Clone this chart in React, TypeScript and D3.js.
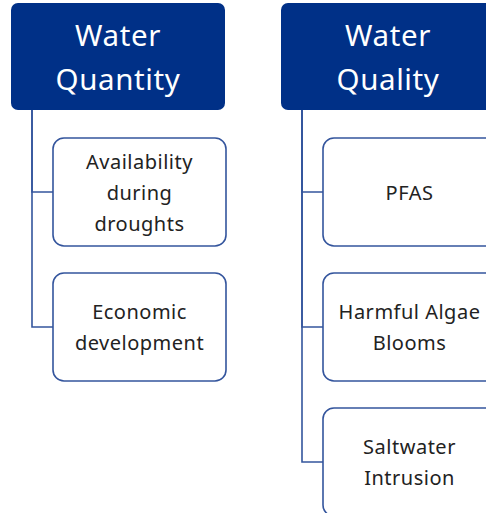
import React from 'react';
import * as d3 from 'd3';

// 两个大类（标题按行拆开）
const groupTitles: string[][] = [['Water', 'Quantity'], ['Water', 'Quality']];
// 每个大类下的子项
const quantityItems: string[][] = [['Availability', 'during', 'droughts'], ['Economic', 'development']];
const qualityItems: string[][] = [['PFAS'], ['Harmful Algae', 'Blooms'], ['Saltwater', 'Intrusion']];
const groupItems = [quantityItems, qualityItems];

const W = 486, H = 513;
const NAVY = '#003087';
const LINE = '#34559d';
const FONT = "'Noto Sans', 'Open Sans', sans-serif";

const App: React.FC = () => {
  // 列位置（标题框左边）
  const colX = d3.scaleOrdinal<number, number>().domain([0, 1]).range([11, 281]);
  // 子项框的纵向位置
  const rowY = d3.scaleLinear().domain([0, 1]).range([138, 273]);

  const headerW = 214, headerTop = 3, headerH = 107;
  const boxOffset = 42, boxW = 173, boxH = 108;
  const trunkOffset = 21;

  return (
    <svg width={W} height={H} style={{ position: 'absolute', left: 0, top: 0, background: '#fff' }}
      fontFamily={FONT}>
      {groupTitles.map((title, gi) => {
        const x0 = colX(gi);
        const trunkX = x0 + trunkOffset;
        const bx = x0 + boxOffset;
        const items = groupItems[gi];
        return (
          <g key={gi}>
            {/* 连接线：每个子项一条折线，前段叠在一起颜色更深 */}
            {items.map((_, i) => {
              const cy = rowY(i) + boxH / 2;
              return (
                <path key={'l' + i} d={`M${trunkX},${headerTop + headerH} V${cy} H${bx}`}
                  fill="none" stroke={LINE} strokeWidth={1.6} />
              );
            })}
            <rect x={x0} y={headerTop} width={headerW} height={headerH} rx={7} fill={NAVY} />
            <text textAnchor="middle" fill="#fff" fontSize={29.5} letterSpacing={0.6}>
              {title.map((t, i) => (
                <tspan key={i} x={x0 + headerW / 2}
                  y={headerTop + headerH / 2 + 11 + (i - (title.length - 1) / 2) * 44}>{t}</tspan>
              ))}
            </text>
            {items.map((lines, i) => {
              const y = rowY(i);
              const cy = y + boxH / 2;
              return (
                <g key={'b' + i}>
                  <rect x={bx} y={y} width={boxW} height={boxH} rx={11} fill="#fff"
                    stroke={LINE} strokeWidth={1.6} />
                  <text textAnchor="middle" fill="#222" fontSize={20} letterSpacing={0.5}>
                    {lines.map((t, j) => (
                      <tspan key={j} x={bx + boxW / 2}
                        y={cy + 7.5 + (j - (lines.length - 1) / 2) * 31}>{t}</tspan>
                    ))}
                  </text>
                </g>
              );
            })}
          </g>
        );
      })}
    </svg>
  );
};

export default App;
